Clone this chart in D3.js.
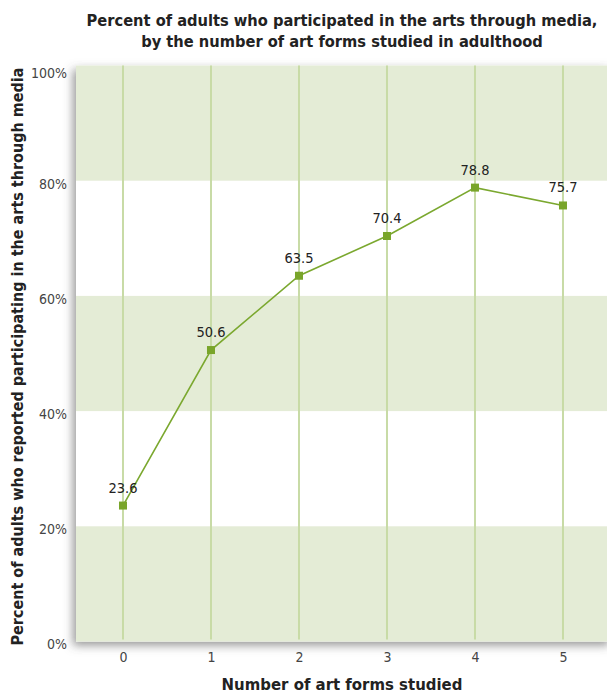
<!DOCTYPE html>
<html><head><meta charset="utf-8">
<script src="https://cdn.jsdelivr.net/npm/d3@7"></script>
<style>
html,body{margin:0;padding:0;background:#fff;}
svg{display:block;font-family:"Liberation Sans Narrow","DejaVu Sans Condensed","Roboto",sans-serif;}
</style></head><body>
<svg id="c" width="607" height="696"></svg>
<script>
const categories = [0, 1, 2, 3, 4, 5];
const values = [23.6, 50.6, 63.5, 70.4, 78.8, 75.7];
const yTicks = [0, 20, 40, 60, 80, 100];
const bands = [[80, 100], [40, 60], [0, 20]];
const titleLines = ["Percent of adults who participated in the arts through media,", "by the number of art forms studied in adulthood"];
const xTitle = "Number of art forms studied";
const yTitle = "Percent of adults who reported participating in the arts through media";

(function () {
const svg = d3.select("#c");
const pL = 76, pR = 612, pT = 65.5, pB = 641.5;
const x = d3.scaleLinear().domain([-0.534, 5.557]).range([pL, pR]);
const y = d3.scaleLinear().domain([0, 100]).range([pB, pT]);

const defs = svg.append("defs");
const f = defs.append("filter").attr("id", "sh").attr("x", "-10%").attr("y", "-10%").attr("width", "120%").attr("height", "120%");
f.append("feDropShadow").attr("dx", -3).attr("dy", 4).attr("stdDeviation", 5).attr("flood-color", "#555").attr("flood-opacity", 0.6);

svg.append("rect").attr("x", pL).attr("y", pT).attr("width", pR - pL).attr("height", pB - pT)
  .attr("fill", "#fff").attr("filter", "url(#sh)");

svg.append("g").selectAll("rect").data(bands).join("rect")
  .attr("x", pL).attr("width", pR - pL)
  .attr("y", d => y(d[1])).attr("height", d => y(d[0]) - y(d[1]))
  .attr("fill", "#e4ecd6");

svg.append("g").selectAll("line").data(categories).join("line")
  .attr("x1", d => x(d)).attr("x2", d => x(d))
  .attr("y1", pT).attr("y2", pB - 2)
  .attr("stroke", "#c8dba6").attr("stroke-width", 2);

const yAxis = d3.axisLeft(y).tickValues(yTicks).tickFormat(d => d + "%").tickSize(0).tickPadding(0);
const ya = svg.append("g").attr("transform", `translate(${pL - 9},3)`).call(yAxis);
ya.select(".domain").remove();
ya.attr("font-family", null).attr("font-size", null);
ya.selectAll("text").attr("font-size", 14).attr("fill", "#444");
ya.selectAll("text").filter(d => d === 100).attr("dy", "0.62em");

const xAxis = d3.axisBottom(x).tickValues(categories).tickFormat(d3.format("d")).tickSize(0).tickPadding(0);
const xa = svg.append("g").attr("transform", `translate(0,${pB + 11})`).call(xAxis);
xa.select(".domain").remove();
xa.attr("font-family", null).attr("font-size", null);
xa.selectAll("text").attr("font-size", 14).attr("fill", "#444");

const data = categories.map((c, i) => ({c, v: values[i]}));
svg.append("path").datum(data)
  .attr("d", d3.line().x(d => x(d.c)).y(d => y(d.v)))
  .attr("fill", "none").attr("stroke", "#7ba82f").attr("stroke-width", 1.6);

svg.append("g").selectAll("rect").data(data).join("rect")
  .attr("x", d => x(d.c) - 4).attr("y", d => y(d.v) - 4)
  .attr("width", 8).attr("height", 8).attr("fill", "#79a52a");

svg.append("g").selectAll("text").data(data).join("text")
  .attr("x", d => x(d.c)).attr("y", d => y(d.v) - 13)
  .attr("text-anchor", "middle").attr("font-size", 14.5).attr("fill", "#222")
  .text(d => d.v.toFixed(1));

svg.append("g").selectAll("text").data(titleLines).join("text")
  .attr("x", 342).attr("y", (d, i) => 26 + i * 21)
  .attr("text-anchor", "middle").attr("font-size", 16.3).attr("font-weight", "bold").attr("fill", "#222")
  .text(d => d);

svg.append("text").attr("x", 342).attr("y", 690)
  .attr("text-anchor", "middle").attr("font-size", 16.6).attr("font-weight", "bold").attr("fill", "#222")
  .text(xTitle);

svg.append("text").attr("transform", `translate(23,${(pT + pB) / 2 + 3}) rotate(-90)`)
  .attr("text-anchor", "middle").attr("font-size", 16).attr("font-weight", "bold").attr("fill", "#222")
  .text(yTitle);
})();
</script>
</body></html>
